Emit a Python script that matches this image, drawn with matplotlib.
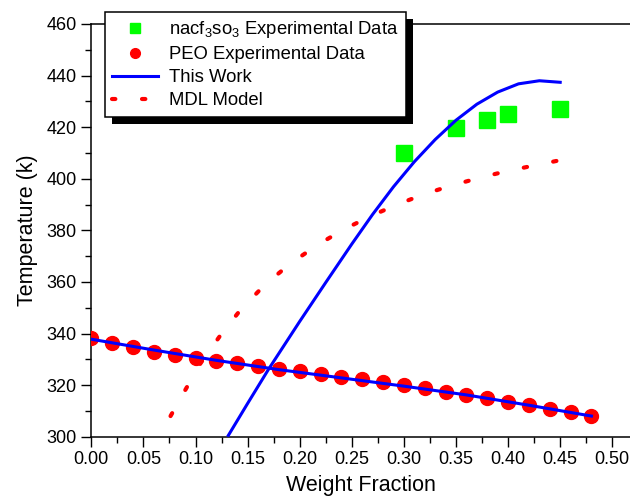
import matplotlib
matplotlib.use('Agg')
import matplotlib.pyplot as plt
from matplotlib.patches import Rectangle
from matplotlib.ticker import MultipleLocator

# === Data ===
# nacf3so3 experimental data (green squares)
nacf_x = [0.30, 0.35, 0.38, 0.40, 0.45]
nacf_y = [409.9, 419.6, 422.8, 425.0, 426.9]

# PEO experimental data (red circles)
peo_x = [0.00, 0.02, 0.04, 0.06, 0.08, 0.10, 0.12, 0.14, 0.16, 0.18, 0.20, 0.22, 0.24,
         0.26, 0.28, 0.30, 0.32, 0.34, 0.36, 0.38, 0.40, 0.42, 0.44, 0.46, 0.48]
peo_y = [338.3, 336.4, 334.8, 332.9, 331.7, 330.4, 329.3, 328.4, 327.4, 326.4, 325.3, 324.3, 323.2,
         322.2, 321.1, 320.0, 318.7, 317.4, 316.3, 315.0, 313.6, 312.1, 310.8, 309.6, 308.0]

# This Work - PEO branch (blue line)
work_peo_x = [0.00, 0.06, 0.12, 0.18, 0.24, 0.30, 0.36, 0.42, 0.48]
work_peo_y = [337.8, 333.6, 329.6, 326.0, 322.8, 319.6, 316.2, 312.2, 308.0]

# This Work - nacf3so3 branch (blue line)
work_salt_x = [0.1315, 0.15, 0.17, 0.20, 0.225, 0.25, 0.27, 0.29, 0.31, 0.33,
               0.35, 0.37, 0.39, 0.41, 0.43, 0.45]
work_salt_y = [300.5, 312.9, 326.1, 344.7, 359.8, 374.7, 386.2, 396.9, 406.6, 415.2,
               422.7, 428.9, 433.6, 436.8, 438.0, 437.4]

# MDL model (red dotted line)
mdl_x = [0.076, 0.09, 0.105, 0.123, 0.143, 0.167, 0.192, 0.218, 0.243, 0.269,
         0.294, 0.32, 0.345, 0.371, 0.396, 0.422, 0.45]
mdl_y = [308.0, 318.0, 328.6, 338.8, 349.1, 359.1, 367.4, 374.6, 380.5, 385.7,
         390.1, 394.1, 397.3, 400.2, 402.7, 404.9, 407.2]

plt.rcParams['font.family'] = ['Liberation Sans', 'DejaVu Sans']
plt.rcParams['mathtext.default'] = 'regular'

fig = plt.figure(figsize=(6.3, 5), dpi=100)
ax = fig.add_axes([0.145, 0.1266, 0.855, 0.8254])

ax.plot(nacf_x, nacf_y, 's', color='#00FF00', markersize=11, linestyle='none',
        label='nacf$_3$so$_3$ Experimental Data', zorder=3)
ax.plot(peo_x, peo_y, 'o', color='#FF0000', markersize=10, linestyle='none',
        label='PEO Experimental Data', zorder=3)
ax.plot(work_salt_x, work_salt_y, color='#0000FF', lw=2.2, label='This Work', zorder=4)
ax.plot(work_peo_x, work_peo_y, color='#0000FF', lw=2.2, zorder=4)
ax.plot(mdl_x, mdl_y, color='#FF0000', lw=3, linestyle=(0, (0.8, 6.4)),
        dash_capstyle='round', label='MDL Model', zorder=2)

# Axes style
ax.set_xlim(0, 0.517)
ax.set_ylim(300, 460)
ax.xaxis.set_major_locator(MultipleLocator(0.05))
ax.xaxis.set_minor_locator(MultipleLocator(0.025))
ax.yaxis.set_major_locator(MultipleLocator(20))
ax.yaxis.set_minor_locator(MultipleLocator(10))
ax.xaxis.set_major_formatter(plt.FormatStrFormatter('%.2f'))
ax.tick_params(which='major', direction='out', length=7, width=1, labelsize=13,
               top=False, right=False)
ax.tick_params(which='minor', direction='out', length=4, width=1, top=False, right=False)
ax.spines['right'].set_visible(False)
for s in ['left', 'bottom', 'top']:
    ax.spines[s].set_linewidth(1.1)

ax.set_xlabel('Weight Fraction', fontsize=15.5, labelpad=5)
ax.set_ylabel('Temperature (k)', fontsize=15.5, labelpad=6)

# Legend with hard black shadow
handles, labels = ax.get_legend_handles_labels()
leg = fig.legend(handles, labels, loc='upper left', bbox_to_anchor=(105 / 630, 1 - 12 / 500),
                 borderaxespad=0, fontsize=13.3, frameon=True, fancybox=False,
                 edgecolor='black', framealpha=1, markerscale=0.7, handlelength=2.45,
                 handletextpad=0.6, labelspacing=0.32, borderpad=0.4)
leg.get_frame().set_linewidth(1.1)

fig.canvas.draw()
bb = leg.get_window_extent().transformed(fig.transFigure.inverted())
shadow = Rectangle((bb.x0 + 7 / 630, bb.y0 - 7 / 500), bb.width, bb.height,
                   transform=fig.transFigure, facecolor='black', edgecolor='none', zorder=4)
fig.patches.append(shadow)

fig.savefig('out.png', dpi=100)
